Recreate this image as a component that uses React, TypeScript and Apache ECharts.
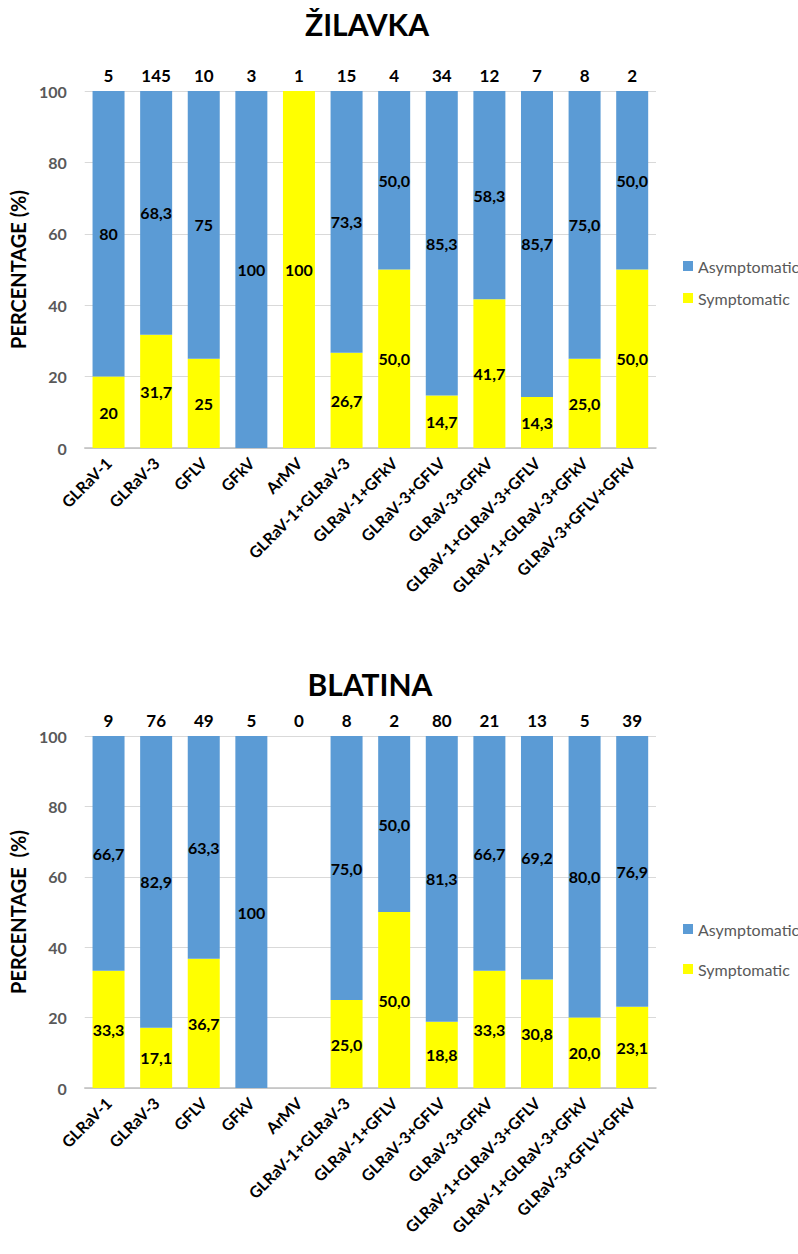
import React, { useEffect, useRef } from "react";
import * as echarts from "echarts";

const zilavkaCategories = [
  "GLRaV-1", "GLRaV-3", "GFLV", "GFkV", "ArMV", "GLRaV-1+GLRaV-3", "GLRaV-1+GFkV",
  "GLRaV-3+GFLV", "GLRaV-3+GFkV", "GLRaV-1+GLRaV-3+GFLV", "GLRaV-1+GLRaV-3+GFkV", "GLRaV-3+GFLV+GFkV",
];
const zilavkaCounts = [5, 145, 10, 3, 1, 15, 4, 34, 12, 7, 8, 2];
const zilavkaSymptomatic = [20, 31.7, 25, 0, 100, 26.7, 50.0, 14.7, 41.7, 14.3, 25.0, 50.0];
const zilavkaAsymptomatic = [80, 68.3, 75, 100, 0, 73.3, 50.0, 85.3, 58.3, 85.7, 75.0, 50.0];

const blatinaCategories = [
  "GLRaV-1", "GLRaV-3", "GFLV", "GFkV", "ArMV", "GLRaV-1+GLRaV-3", "GLRaV-1+GFLV",
  "GLRaV-3+GFLV", "GLRaV-3+GFkV", "GLRaV-1+GLRaV-3+GFLV", "GLRaV-1+GLRaV-3+GFkV", "GLRaV-3+GFLV+GFkV",
];
const blatinaCounts = [9, 76, 49, 5, 0, 8, 2, 80, 21, 13, 5, 39];
const blatinaSymptomatic = [33.3, 17.1, 36.7, 0, 0, 25.0, 50.0, 18.8, 33.3, 30.8, 20.0, 23.1];
const blatinaAsymptomatic = [66.7, 82.9, 63.3, 100, 0, 75.0, 50.0, 81.3, 66.7, 69.2, 80.0, 76.9];

const yTicks = { min: 0, max: 100, interval: 20 };

const FONT = "Lato, 'Open Sans', sans-serif";
const BLUE = "#5B9BD5";
const YELLOW = "#FFFF00";

function fmt(v: number, idx: number): string {
  if (!v) return "";
  if (idx < 5 && Number.isInteger(v)) return String(v);
  return v.toFixed(1).replace(".", ",");
}

function barSeries(name: string, data: number[], stack: string, axisIndex: number, color: string) {
  return {
    name,
    type: "bar",
    stack,
    xAxisIndex: axisIndex * 2,
    yAxisIndex: axisIndex,
    barWidth: 32,
    data,
    itemStyle: { color },
    label: {
      show: true,
      position: "inside",
      color: "#000",
      fontFamily: FONT,
      fontWeight: "bold",
      fontSize: 16,
      formatter: (p: any) => fmt(p.value, p.dataIndex),
    },
  };
}

function axesFor(gridIndex: number, categories: string[], counts: number[]) {
  return [
    {
      type: "category",
      gridIndex,
      data: categories,
      axisLine: { show: true, lineStyle: { color: "#BFBFBF", width: 1.5 } },
      axisTick: { show: false },
      axisLabel: {
        interval: 0,
        rotate: 45,
        margin: 12,
        color: "#000",
        fontFamily: FONT,
        fontWeight: "bold",
        fontSize: 16,
      },
    },
    {
      type: "category",
      gridIndex,
      position: "top",
      data: counts.map(String),
      axisLine: { show: false },
      axisTick: { show: false },
      axisLabel: {
        interval: 0,
        margin: 7,
        color: "#000",
        fontFamily: FONT,
        fontWeight: "bold",
        fontSize: 17,
      },
    },
  ];
}

function yAxisFor(gridIndex: number, name: string, nameGap: number) {
  return {
    type: "value",
    gridIndex,
    min: yTicks.min,
    max: yTicks.max,
    interval: yTicks.interval,
    name,
    nameLocation: "middle",
    nameRotate: 90,
    nameGap,
    nameTextStyle: { color: "#000", fontFamily: FONT, fontWeight: "bold", fontSize: 20 },
    axisLine: { show: false },
    axisTick: { show: false },
    splitLine: { lineStyle: { color: "#D9D9D9", width: 1 } },
    axisLabel: { color: "#595959", fontFamily: FONT, fontWeight: "bold", fontSize: 16, margin: 18 },
  };
}

function legendAt(top: number, itemGap: number) {
  return {
    data: ["Asymptomatic", "Symptomatic"],
    orient: "vertical",
    left: 678,
    top,
    itemGap,
    itemWidth: 10,
    itemHeight: 10,
    icon: "rect",
    textStyle: { color: "#595959", fontFamily: FONT, fontSize: 16 },
  };
}

export default function App() {
  const ref = useRef<HTMLDivElement>(null);
  useEffect(() => {
    document.body.style.margin = "0";
    if (!ref.current) return;
    const chart = echarts.init(ref.current, null, { renderer: "svg" });
    chart.setOption({
      animation: false,
      backgroundColor: "#fff",
      graphic: [
        {
          type: "text",
          x: 367,
          y: 24,
          style: {
            text: "ŽILAVKA",
            textAlign: "center",
            textVerticalAlign: "middle",
            fill: "#000",
            fontFamily: FONT,
            fontWeight: "bold",
            fontSize: 30,
          },
        },
        {
          type: "text",
          x: 370,
          y: 684,
          style: {
            text: "BLATINA",
            textAlign: "center",
            textVerticalAlign: "middle",
            fill: "#000",
            fontFamily: FONT,
            fontWeight: "bold",
            fontSize: 30,
          },
        },
      ],
      legend: [legendAt(253, 16), legendAt(916, 24)],
      grid: [
        { left: 78, top: 91, width: 578, height: 357 },
        { left: 78, top: 736, width: 578, height: 352 },
      ],
      xAxis: [
        ...axesFor(0, zilavkaCategories, zilavkaCounts),
        ...axesFor(1, blatinaCategories, blatinaCounts),
      ],
      yAxis: [yAxisFor(0, "PERCENTAGE (%)", 38), yAxisFor(1, "PERCENTAGE  (%)", 45)],
      series: [
        barSeries("Symptomatic", zilavkaSymptomatic, "z", 0, YELLOW),
        barSeries("Asymptomatic", zilavkaAsymptomatic, "z", 0, BLUE),
        barSeries("Symptomatic", blatinaSymptomatic, "b", 1, YELLOW),
        barSeries("Asymptomatic", blatinaAsymptomatic, "b", 1, BLUE),
      ],
    });
    return () => chart.dispose();
  }, []);
  return <div ref={ref} style={{ width: 798, height: 1254 }} />;
}
